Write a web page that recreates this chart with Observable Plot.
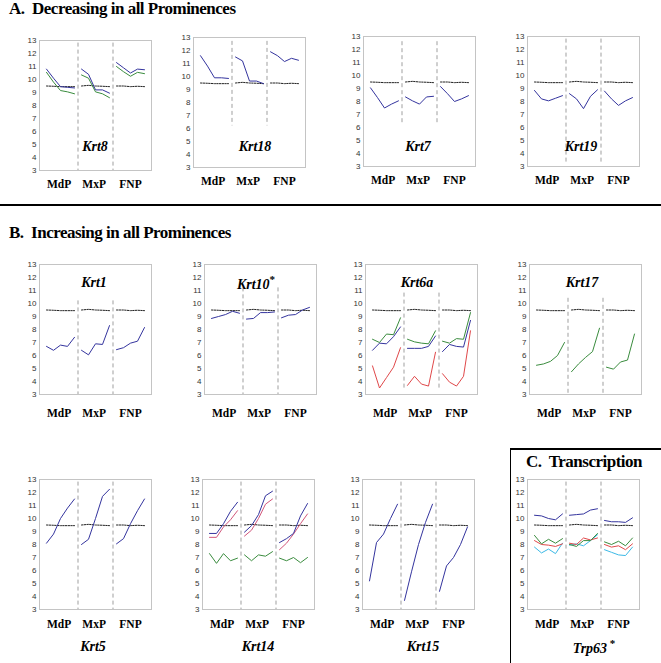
<!DOCTYPE html>
<html><head><meta charset="utf-8">
<script src="https://cdn.jsdelivr.net/npm/d3@7"></script>
<script src="https://cdn.jsdelivr.net/npm/@observablehq/plot@0.6"></script>
<style>
body{margin:0;background:#fff;}
#root{position:relative;width:661px;height:663px;background:#fff;overflow:hidden;}
.sec{position:absolute;font-family:"Liberation Serif","Times New Roman",serif;font-weight:bold;font-size:17px;letter-spacing:-0.5px;white-space:pre;color:#000;}
.gene{position:absolute;font-family:"Liberation Serif","Times New Roman",serif;font-weight:bold;font-style:italic;font-size:14px;transform:translate(-50%,-50%);white-space:nowrap;color:#000;}
.gene sup{font-style:normal;font-size:11px;}
.pan{position:absolute;}
.hr{position:absolute;background:#000;}
</style></head>
<body><div id="root"></div>
<script>
const prominences = ["MdP","MxP","FNP"];
const promX = [2.8, 7.8, 13];
const yTicks = [3,4,5,6,7,8,9,10,11,12,13];
const reference = [9.5,9.48,9.45,9.45,9.45, 9.5,9.55,9.5,9.48,9.45, 9.5,9.5,9.45,9.48,9.45];

const krt8Blue  = [10.8,10.1,9.45,9.4,9.35, 10.8,10.4,9.2,9.2,8.95, 11.3,10.9,10.5,10.8,10.75];
const krt8Green = [10.55,9.8,9.15,9.05,8.9, 10.35,10.1,9.05,8.9,8.6, 11.0,10.6,10.25,10.55,10.45];
const krt18Blue = [11.6,10.8,9.9,9.9,9.85, 11.5,11.2,9.65,9.65,9.45, 11.9,11.6,11.15,11.4,11.25];
const krt7Blue  = [9.05,8.3,7.5,7.8,8.05, 8.35,8.05,7.8,8.35,8.4, 9.15,8.6,8.0,8.2,8.45];
const krt19Blue = [8.85,8.2,8.05,8.25,8.45, 8.6,8.2,7.45,8.4,8.9, 8.8,8.2,7.7,8.05,8.3];
const krt1Blue  = [6.7,6.4,6.8,6.7,7.4, 6.4,6.05,6.9,6.85,8.3, 6.45,6.6,6.95,7.1,8.15];
const krt10Blue = [8.85,9.0,9.15,9.4,9.25, 8.8,8.85,9.3,9.3,9.35, 8.9,9.1,9.15,9.5,9.7];
const krt6aGreen = [7.25,7.0,7.65,7.6,8.9, 7.25,7.05,6.95,6.9,7.9, 7.1,6.95,7.3,7.25,9.3];
const krt6aBlue  = [6.4,6.95,6.9,7.45,8.2, 6.55,6.55,6.55,6.7,7.5, 6.3,6.85,6.7,6.65,8.7];
const krt6aRed   = [5.2,3.5,4.3,5.1,6.6, 3.7,4.4,3.8,3.65,6.25, 4.6,3.95,3.65,4.4,7.9];
const krt17Green = [5.25,5.35,5.55,6.0,7.0, 4.75,5.35,5.85,6.3,8.1, 5.1,4.95,5.5,5.65,7.65];
const krt5Blue   = [8.1,8.8,10.0,10.8,11.5, 8.0,8.4,10.0,11.7,12.25, 8.05,8.45,9.6,10.6,11.5];
const krt14Blue  = [8.85,8.85,9.6,10.55,11.25, 8.95,9.45,10.3,11.75,12.1, 8.15,8.45,8.85,10.2,11.15];
const krt14Red   = [8.55,8.55,9.35,9.9,10.6, 8.65,9.1,10.0,11.1,11.5, 7.6,8.1,8.8,9.6,10.35];
const krt14Green = [7.3,6.55,7.3,6.75,6.95, 7.2,6.75,7.2,7.1,7.45, 6.95,6.75,7.0,6.6,7.0];
const krt15Blue  = [5.2,8.15,8.8,10.0,11.1, 3.7,5.9,8.0,9.7,11.1, 4.4,6.35,7.0,8.0,9.35];
const trp63Blue  = [10.25,10.2,10.0,9.9,10.35, 10.25,10.3,10.35,10.65,10.75, 9.85,9.75,9.75,9.7,10.05];
const trp63Green = [8.7,8.05,8.4,8.1,8.45, 8.0,7.85,8.3,8.3,8.85, 8.2,8.0,8.25,7.9,8.5];
const trp63Red   = [8.3,8.0,7.95,7.85,8.05, 8.1,8.0,8.5,8.35,8.5, 8.0,7.8,7.9,7.6,8.05];
const trp63Cyan  = [7.8,7.35,7.65,7.3,8.1, 7.95,8.05,7.9,8.3,8.75, 7.6,7.4,7.2,7.15,7.8];

const BLUE="#34349e", GREEN="#3a8c3e", RED="#e0484a", PINK="#d2567a", CYAN="#3cb9e6";

const panels = [
  {gene:"Krt8", left:39, top:40, dash:[12.8,3], lab:[95,147], pad:9, series:[[krt8Blue,BLUE],[krt8Green,GREEN]]},
  {gene:"Krt18", left:193, top:37, dash:[12.7,6.2], lab:[255,147], pad:9, series:[[krt18Blue,BLUE]]},
  {gene:"Krt7", left:363, top:36, dash:[12.6,6.2], lab:[418,147], pad:9, series:[[krt7Blue,BLUE]]},
  {gene:"Krt19", left:527, top:36, dash:[12.8,3.3], lab:[581,147], pad:9, series:[[krt19Blue,BLUE]]},
  {gene:"Krt1", left:39, top:264, dash:[10.2,3], lab:[94,283], pad:14, series:[[krt1Blue,BLUE]]},
  {gene:"Krt10<sup>*</sup>", left:204, top:264, dash:[11.2,3], lab:[256,283], pad:14, series:[[krt10Blue,BLUE]]},
  {gene:"Krt6a", left:365, top:264, dash:[10.8,3.3], lab:[417,283], pad:14, series:[[krt6aGreen,GREEN],[krt6aBlue,BLUE],[krt6aRed,RED]]},
  {gene:"Krt17", left:529, top:264, dash:[10.4,3], lab:[582,283], pad:14, series:[[krt17Green,GREEN]]},
  {gene:"Krt5", left:39, top:479, dash:[12.8,3], lab:[93,647], pad:10, series:[[krt5Blue,BLUE]]},
  {gene:"Krt14", left:202, top:479, dash:[12.8,3], lab:[258,647], pad:10, series:[[krt14Green,GREEN],[krt14Red,PINK],[krt14Blue,BLUE]]},
  {gene:"Krt15", left:362, top:479, dash:[12.8,3], lab:[423,647], pad:10, series:[[krt15Blue,BLUE]]},
  {gene:"Trp63<sup>&nbsp;*</sup>", left:527, top:479, dash:[12.8,3], lab:[594,647], pad:10, series:[[trp63Cyan,CYAN],[trp63Red,RED],[trp63Green,GREEN],[trp63Blue,BLUE]]}
];

const root = document.getElementById("root");
const FW = 112, FH = 130, ML = 30, MR = 6, MT = 6, MB = 34;

function rowsOf(values, name) {
  return values.map((v, i) => ({x: i + 1, y: v, z: name + "-" + Math.floor(i / 5)}));
}

panels.forEach((p, k) => {
  const refRows = rowsOf(reference, "ref");
  const dataRows = [];
  p.series.forEach(([vals, col], j) => rowsOf(vals, "s" + j).forEach(r => { r.c = col; dataRows.push(r); }));
  const chart = Plot.plot({
    width: FW + ML + MR, height: FH + MT + MB,
    marginLeft: ML, marginRight: MR, marginTop: MT, marginBottom: MB,
    style: {background: "transparent", fontFamily: "'Liberation Sans', Arial, sans-serif", fontSize: "8px", color: "#333"},
    x: {domain: [0, 16]},
    y: {domain: [3, 13]},
    marks: [
      Plot.frame({stroke: "#c4c4c4"}),
      Plot.axisY(yTicks, {tickSize: 0, tickPadding: 3, fontSize: 8, label: null, fill: "#333"}),
      Plot.axisX(promX, {tickSize: 0, tickPadding: p.pad, label: null, tickFormat: d => prominences[promX.indexOf(d)],
        fontFamily: "'Liberation Serif', 'Times New Roman', serif", fontWeight: "bold", fontSize: 11.5, fill: "#000"}),
      Plot.ruleX([5.5, 10.5], {y1: p.dash[0], y2: p.dash[1], stroke: "#777", strokeDasharray: "4,3", strokeWidth: 0.7}),
      Plot.line(refRows, {x: "x", y: "y", z: "z", stroke: "#222", strokeWidth: 1, strokeDasharray: "1.5,1.2"}),
      Plot.line(dataRows, {x: "x", y: "y", z: "z", stroke: "c", strokeWidth: 1})
    ]
  });
  const wrap = document.createElement("div");
  wrap.className = "pan";
  wrap.style.left = (p.left - ML) + "px";
  wrap.style.top = (p.top - MT) + "px";
  wrap.appendChild(chart);
  root.appendChild(wrap);
  const g = document.createElement("div");
  g.className = "gene";
  g.innerHTML = p.gene;
  g.style.left = p.lab[0] + "px";
  g.style.top = p.lab[1] + "px";
  root.appendChild(g);
});

function sec(text, x, y) {
  const d = document.createElement("div");
  d.className = "sec"; d.textContent = text;
  d.style.left = x + "px"; d.style.top = y + "px";
  root.appendChild(d);
}
sec("A.  Decreasing in all Prominences", 9, -1);
sec("B.  Increasing in all Prominences", 9, 223);
sec("C.  Transcription", 526, 452);

function rule(x, y, w, h) {
  const d = document.createElement("div");
  d.className = "hr";
  Object.assign(d.style, {left: x + "px", top: y + "px", width: w + "px", height: h + "px"});
  root.appendChild(d);
}
rule(0, 204, 661, 1.5);
rule(510, 448, 151, 1.5);
rule(509.5, 448, 1.5, 215);
</script></body></html>
